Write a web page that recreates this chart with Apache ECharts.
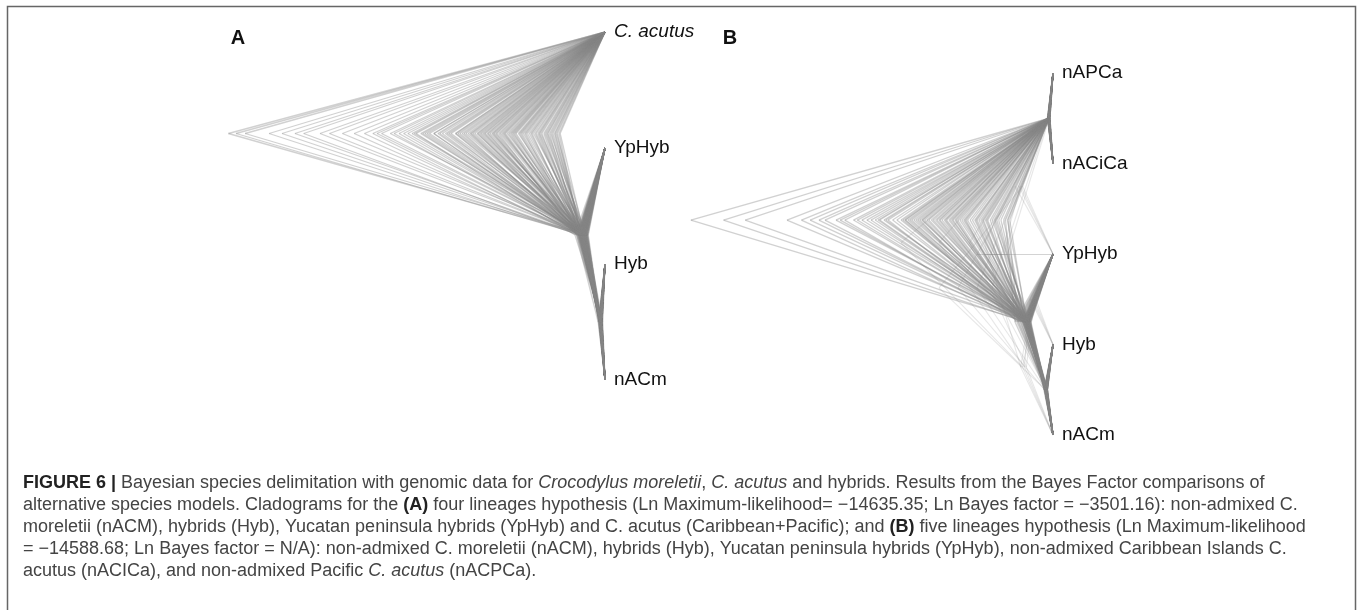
<!DOCTYPE html>
<html>
<head>
<meta charset="utf-8">
<script src="https://cdn.jsdelivr.net/npm/echarts@6/dist/echarts.min.js"></script>
<style>
html,body{margin:0;padding:0;background:#ffffff;}
#chart{width:1360px;height:610px;}
</style>
</head>
<body>
<div id="chart"></div>
<script>
// ---------------- DATA ----------------
// Tip labels (top to bottom)
const tipsA = ['C. acutus', 'YpHyb', 'Hyb', 'nACm'];
const tipsB = ['nAPCa', 'nACiCa', 'YpHyb', 'Hyb', 'nACm'];

// Topologies: internal nodes, each listed as [childA, childB]; tips are 0..n-1,
// internal node j gets id n+j (last one = root)
const topoA  = [[2, 3], [1, 4], [0, 5]];                 // (C.acutus,(YpHyb,(Hyb,nACm)))
const topoB  = [[0, 1], [3, 4], [2, 6], [5, 7]];         // ((nAPCa,nACiCa),(YpHyb,(Hyb,nACm)))
const topoB2 = [[0, 1], [3, 4], [5, 6], [2, 7]];         // (YpHyb,((nAPCa,nACiCa),(Hyb,nACm)))
const topoB3 = [[0, 1], [3, 4], [2, 5], [7, 6]];         // ((YpHyb,(nAPCa,nACiCa)),(Hyb,nACm))
const topoB4 = [[0, 1], [2, 3], [6, 4], [5, 7]];         // ((nAPCa,nACiCa),((YpHyb,Hyb),nACm))

// Posterior trees, panel A: node ages [ (Hyb,nACm), (YpHyb,..), root ]
const treesA = [
  [0.011, 0.052, 0.991], [0.008, 0.061, 0.971], [0.014, 0.047, 0.947], [0.010, 0.066, 0.884],
  [0.016, 0.058, 0.816], [0.009, 0.071, 0.793], [0.012, 0.055, 0.725], [0.006, 0.049, 0.691],
  [0.013, 0.063, 0.633], [0.018, 0.075, 0.611], [0.010, 0.057, 0.588], [0.011, 0.044, 0.565],
  [0.008, 0.068, 0.542], [0.015, 0.060, 0.519], [0.012, 0.053, 0.508], [0.007, 0.079, 0.497],
  [0.013, 0.056, 0.485], [0.010, 0.062, 0.474], [0.016, 0.050, 0.462], [0.009, 0.065, 0.451],
  [0.012, 0.058, 0.440], [0.011, 0.070, 0.428], [0.014, 0.054, 0.415], [0.008, 0.061, 0.410],
  [0.010, 0.047, 0.405], [0.013, 0.067, 0.394], [0.012, 0.059, 0.382], [0.009, 0.073, 0.371],
  [0.015, 0.052, 0.360], [0.011, 0.064, 0.355], [0.010, 0.057, 0.348], [0.014, 0.045, 0.337],
  [0.008, 0.069, 0.330], [0.012, 0.060, 0.326], [0.017, 0.055, 0.315], [0.010, 0.062, 0.310],
  [0.011, 0.050, 0.303], [0.013, 0.066, 0.292], [0.009, 0.058, 0.285], [0.012, 0.074, 0.280],
  [0.010, 0.053, 0.268], [0.015, 0.061, 0.262], [0.011, 0.048, 0.257], [0.008, 0.067, 0.246],
  [0.013, 0.059, 0.240], [0.012, 0.056, 0.234], [0.010, 0.063, 0.222], [0.014, 0.051, 0.215],
  [0.009, 0.070, 0.211], [0.011, 0.057, 0.199], [0.016, 0.060, 0.195], [0.012, 0.046, 0.188],
  [0.010, 0.065, 0.177], [0.013, 0.054, 0.172], [0.008, 0.062, 0.166], [0.011, 0.058, 0.155],
  [0.014, 0.049, 0.150], [0.010, 0.068, 0.146], [0.012, 0.056, 0.137], [0.009, 0.061, 0.133],
  [0.013, 0.052, 0.128], [0.011, 0.064, 0.121],
  [0.012, 0.059, 0.392], [0.010, 0.055, 0.387], [0.013, 0.066, 0.376], [0.009, 0.051, 0.366],
  [0.011, 0.062, 0.352], [0.014, 0.057, 0.343], [0.010, 0.070, 0.334], [0.012, 0.048, 0.322],
  [0.008, 0.060, 0.318], [0.013, 0.064, 0.307], [0.011, 0.053, 0.298], [0.015, 0.061, 0.295],
  [0.010, 0.067, 0.288], [0.012, 0.056, 0.276], [0.009, 0.050, 0.272], [0.011, 0.063, 0.265],
  [0.014, 0.058, 0.253], [0.010, 0.072, 0.249], [0.012, 0.054, 0.243], [0.013, 0.060, 0.237],
  [0.009, 0.047, 0.228], [0.011, 0.065, 0.225], [0.012, 0.057, 0.219], [0.010, 0.061, 0.208],
  [0.014, 0.052, 0.204], [0.011, 0.068, 0.192], [0.013, 0.055, 0.184], [0.010, 0.059, 0.181],
  [0.012, 0.063, 0.174], [0.009, 0.050, 0.169], [0.011, 0.066, 0.161], [0.013, 0.056, 0.158],
  [0.010, 0.060, 0.152], [0.012, 0.053, 0.143], [0.014, 0.062, 0.140], [0.011, 0.058, 0.131],
  [0.010, 0.064, 0.125], [0.012, 0.055, 0.118], [0.013, 0.061, 0.450], [0.010, 0.054, 0.435],
  [0.011, 0.067, 0.420], [0.012, 0.058, 0.468], [0.009, 0.063, 0.480], [0.014, 0.051, 0.502],
  [0.011, 0.060, 0.530], [0.010, 0.065, 0.555], [0.012, 0.057, 0.600], [0.013, 0.062, 0.660],
  [0.010, 0.056, 0.750], [0.011, 0.059, 0.850]
];

// Posterior trees, panel B (main topology): [ (nAPCa,nACiCa), (Hyb,nACm), (YpHyb,..), root ]
const treesB = [
  [0.010, 0.018, 0.068, 0.953], [0.012, 0.015, 0.075, 0.867], [0.008, 0.020, 0.062, 0.810],
  [0.011, 0.017, 0.080, 0.662], [0.013, 0.021, 0.066, 0.639], [0.009, 0.016, 0.071, 0.616],
  [0.010, 0.019, 0.058, 0.571], [0.014, 0.018, 0.085, 0.548], [0.011, 0.022, 0.069, 0.525],
  [0.008, 0.017, 0.064, 0.503], [0.012, 0.015, 0.077, 0.479], [0.010, 0.020, 0.067, 0.468],
  [0.013, 0.018, 0.072, 0.456], [0.009, 0.024, 0.060, 0.445], [0.011, 0.016, 0.090, 0.434],
  [0.010, 0.019, 0.068, 0.422], [0.015, 0.017, 0.074, 0.411], [0.012, 0.021, 0.063, 0.400],
  [0.009, 0.018, 0.070, 0.395], [0.011, 0.014, 0.081, 0.388], [0.010, 0.020, 0.066, 0.377],
  [0.013, 0.017, 0.073, 0.372], [0.008, 0.019, 0.059, 0.366], [0.012, 0.022, 0.069, 0.355],
  [0.010, 0.016, 0.095, 0.350], [0.011, 0.018, 0.065, 0.343], [0.014, 0.020, 0.071, 0.332],
  [0.009, 0.017, 0.078, 0.327], [0.012, 0.015, 0.062, 0.320], [0.010, 0.021, 0.068, 0.309],
  [0.011, 0.019, 0.074, 0.300], [0.013, 0.016, 0.066, 0.297], [0.009, 0.023, 0.083, 0.286],
  [0.012, 0.018, 0.070, 0.280], [0.010, 0.017, 0.061, 0.274], [0.011, 0.020, 0.072, 0.263],
  [0.014, 0.015, 0.067, 0.258], [0.008, 0.019, 0.076, 0.251], [0.012, 0.018, 0.064, 0.240],
  [0.010, 0.022, 0.070, 0.235], [0.011, 0.016, 0.087, 0.229], [0.013, 0.019, 0.068, 0.218],
  [0.009, 0.017, 0.073, 0.206], [0.012, 0.021, 0.063, 0.200], [0.010, 0.018, 0.069, 0.195],
  [0.011, 0.015, 0.079, 0.183], [0.014, 0.020, 0.066, 0.178], [0.010, 0.017, 0.071, 0.172],
  [0.012, 0.019, 0.060, 0.160], [0.009, 0.018, 0.075, 0.155], [0.011, 0.022, 0.067, 0.148],
  [0.013, 0.016, 0.072, 0.137], [0.010, 0.019, 0.100, 0.125], [0.012, 0.018, 0.070, 0.114],
  [0.011, 0.017, 0.066, 0.390], [0.010, 0.020, 0.073, 0.382], [0.012, 0.016, 0.069, 0.360],
  [0.013, 0.019, 0.062, 0.345], [0.009, 0.018, 0.077, 0.338], [0.011, 0.021, 0.068, 0.315],
  [0.012, 0.017, 0.071, 0.305], [0.010, 0.015, 0.065, 0.292], [0.014, 0.019, 0.074, 0.283],
  [0.011, 0.018, 0.070, 0.270], [0.010, 0.022, 0.063, 0.266], [0.012, 0.016, 0.080, 0.255],
  [0.013, 0.020, 0.067, 0.245], [0.009, 0.017, 0.072, 0.232], [0.011, 0.019, 0.069, 0.225],
  [0.012, 0.018, 0.061, 0.212], [0.010, 0.021, 0.075, 0.203], [0.011, 0.016, 0.068, 0.190],
  [0.013, 0.019, 0.071, 0.186], [0.010, 0.018, 0.066, 0.175], [0.012, 0.017, 0.078, 0.165],
  [0.011, 0.020, 0.064, 0.152], [0.009, 0.018, 0.070, 0.143], [0.012, 0.016, 0.073, 0.130],
  [0.010, 0.019, 0.067, 0.120], [0.011, 0.017, 0.092, 0.118], [0.012, 0.018, 0.069, 0.440],
  [0.010, 0.020, 0.074, 0.460], [0.013, 0.016, 0.065, 0.490], [0.011, 0.019, 0.071, 0.515],
  [0.012, 0.018, 0.068, 0.560], [0.010, 0.017, 0.076, 0.600], [0.011, 0.021, 0.066, 0.700]
];

// Rarer alternative topologies in panel B (ages listed in the topology's node order)
const altTreesB = [
  { topo: 'B2', ages: [0.012, 0.020, 0.130, 0.178] },
  { topo: 'B2', ages: [0.010, 0.018, 0.120, 0.200] },
  { topo: 'B3', ages: [0.013, 0.019, 0.090, 0.200] },
  { topo: 'B3', ages: [0.011, 0.022, 0.100, 0.250] },
  { topo: 'B3', ages: [0.012, 0.017, 0.085, 0.160] },
  { topo: 'B3', ages: [0.010, 0.020, 0.080, 0.300] },
  { topo: 'B4', ages: [0.012, 0.060, 0.075, 0.300] },
  { topo: 'B4', ages: [0.010, 0.050, 0.070, 0.220] },
  { topo: 'B4', ages: [0.011, 0.045, 0.080, 0.400] },
  { topo: 'B4', ages: [0.013, 0.055, 0.085, 0.180] }
];

// Caption lines
const captionLines = [
  '{b|FIGURE 6 |} Bayesian species delimitation with genomic data for {i|Crocodylus moreletii}, {i|C. acutus} and hybrids. Results from the Bayes Factor comparisons of',
  'alternative species models. Cladograms for the {b|(A)} four lineages hypothesis (Ln Maximum-likelihood= \u221214635.35; Ln Bayes factor = \u22123501.16): non-admixed C.',
  'moreletii (nACM), hybrids (Hyb), Yucatan peninsula hybrids (YpHyb) and C. acutus (Caribbean+Pacific); and {b|(B)} five lineages hypothesis (Ln Maximum-likelihood',
  '= \u221214588.68; Ln Bayes factor = N/A): non-admixed C. moreletii (nACM), hybrids (Hyb), Yucatan peninsula hybrids (YpHyb), non-admixed Caribbean Islands C.',
  'acutus (nACICa), and non-admixed Pacific {i|C. acutus} (nACPCa).'
];
const panelLabels = ['A', 'B'];

// ---------------- BUILD ----------------
const topos = { B2: topoB2, B3: topoB3, B4: topoB4 };

function treeSegments(topo, nTips, ages) {
  const y = [], x = [];
  for (let i = 0; i < nTips; i++) { y[i] = i; x[i] = 0; }
  topo.forEach((kids, j) => {
    const id = nTips + j;
    y[id] = (y[kids[0]] + y[kids[1]]) / 2;
    x[id] = ages[j];
  });
  const segs = [];
  topo.forEach((kids, j) => {
    const id = nTips + j;
    kids.forEach(k => segs.push({ coords: [[x[id], y[id]], [x[k], y[k]]] }));
  });
  return segs;
}

const segsA = [];
treesA.forEach(a => segsA.push(...treeSegments(topoA, tipsA.length, a)));
const segsB = [];
treesB.forEach(a => segsB.push(...treeSegments(topoB, tipsB.length, a)));
const segsBalt = [];
altTreesB.forEach(t => segsBalt.push(...treeSegments(topos[t.topo], tipsB.length, t.ages)));

const FONT = "'Liberation Sans', Arial, Helvetica, sans-serif";
const LINE_COLOR = '#858585';

function tipAxis(grid, tips) {
  return {
    gridIndex: grid, type: 'value', min: 0, max: tips.length - 1, interval: 1,
    inverse: true, position: 'right',
    axisLine: { show: false }, axisTick: { show: false }, splitLine: { show: false },
    axisLabel: {
      show: true, margin: 9, showMinLabel: true, showMaxLabel: true,
      fontSize: 19, fontFamily: FONT, color: '#111',
      formatter: v => {
        const t = tips[Math.round(v)];
        return t === 'C. acutus' ? '{it|' + t + '}' : t;
      },
      rich: { it: { fontStyle: 'italic', fontSize: 19, fontFamily: FONT, color: '#111' } }
    }
  };
}
function ageAxis(grid) {
  return { gridIndex: grid, type: 'value', min: 0, max: 1, inverse: true, show: false };
}
function treeSeries(xi, data, opacity, width) {
  return {
    type: 'lines', coordinateSystem: 'cartesian2d', xAxisIndex: xi, yAxisIndex: xi,
    polyline: false, silent: true, animation: false, z: 2,
    lineStyle: { color: LINE_COLOR, width: width, opacity: opacity, curveness: 0 },
    data: data
  };
}

const graphics = [
  { type: 'polyline', silent: true,
    shape: { points: [[7.5, 612], [7.5, 6.5], [1355.5, 6.5], [1355.5, 612]] },
    style: { stroke: '#666', lineWidth: 1.5, fill: null } },
  { type: 'text', x: 238, y: 38, silent: true,
    style: { text: panelLabels[0], font: "bold 20px " + FONT, fill: '#111', align: 'center', verticalAlign: 'middle' } },
  { type: 'text', x: 730, y: 38, silent: true,
    style: { text: panelLabels[1], font: "bold 20px " + FONT, fill: '#111', align: 'center', verticalAlign: 'middle' } }
];
captionLines.forEach((line, i) => {
  graphics.push({
    type: 'text', x: 23, y: 483 + i * 22, silent: true,
    style: {
      text: line, fontSize: 18, fontFamily: FONT, fill: '#444', verticalAlign: 'middle', align: 'left',
      rich: {
        b: { fontWeight: 'bold', fontSize: 18, fontFamily: FONT, fill: '#222' },
        i: { fontStyle: 'italic', fontSize: 18, fontFamily: FONT, fill: '#444' }
      }
    }
  });
});

const chart = echarts.init(document.getElementById('chart'), null, { renderer: 'canvas' });
chart.setOption({
  backgroundColor: '#ffffff',
  animation: false,
  grid: [
    { left: 225, width: 380, top: 32, height: 348, containLabel: false, outerBoundsMode: 'none' },
    { left: 673, width: 380, top: 73, height: 362, containLabel: false, outerBoundsMode: 'none' }
  ],
  xAxis: [ageAxis(0), ageAxis(1)],
  yAxis: [tipAxis(0, tipsA), tipAxis(1, tipsB)],
  series: [
    treeSeries(0, segsA, 0.38, 1.3),
    treeSeries(1, segsB, 0.38, 1.3),
    treeSeries(1, segsBalt, 0.2, 1.1)
  ],
  graphic: graphics
});
</script>
</body>
</html>
